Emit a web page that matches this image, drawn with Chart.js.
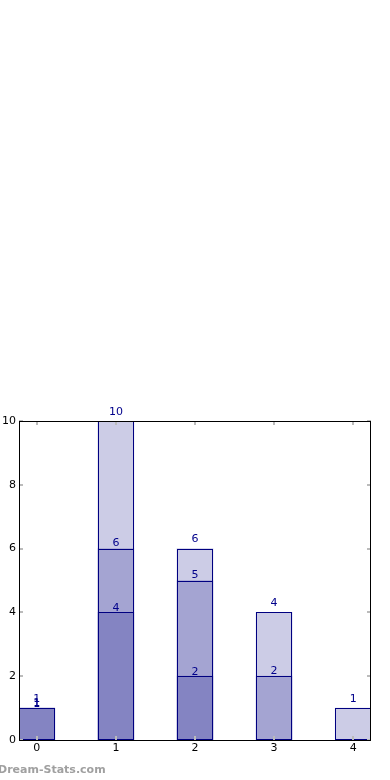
<!DOCTYPE html>
<html>
<head>
<meta charset="utf-8">
<script src="https://cdn.jsdelivr.net/npm/chart.js@4.4.1/dist/chart.umd.min.js"></script>
<style>
  html, body { margin: 0; padding: 0; background: #fff; }
  #wrap { width: 390px; height: 780px; position: relative; }
</style>
</head>
<body>
<div id="wrap"><canvas id="chart" width="390" height="780"></canvas></div>
<script>
// data
const categories = [0, 1, 2, 3, 4];
const totalVals  = [1, 10, 6, 4, 1];
const midVals    = [1, 6, 5, 2, null];
const lowVals    = [1, 4, 2, null, null];
const yTicks     = [0, 2, 4, 6, 8, 10];

const fill = 'rgba(0,0,128,0.2)';
const edge = '#000080';

function toPoints(vals) {
    return categories.map((c, i) => ({ x: c, y: vals[i] }));
}

function makeSet(vals, lift) {
    return {
        data: toPoints(vals),
        backgroundColor: fill,
        borderWidth: 0,
        barThickness: 36,
        grouped: false,
        labelLift: lift
    };
}

// crisp outlines + value labels on top of the bars
const barLabels = {
    id: 'barLabels',
    afterDatasetsDraw(chart) {
        const ctx = chart.ctx;
        ctx.save();
        ctx.strokeStyle = edge;
        ctx.lineWidth = 1;
        chart.data.datasets.forEach((ds, di) => {
            chart.getDatasetMeta(di).data.forEach((bar, i) => {
                if (ds.data[i].y == null) return;
                const p = bar.getProps(['x', 'y', 'base', 'width'], true);
                const l = Math.round(p.x - p.width / 2) + 0.5;
                const r = Math.round(p.x + p.width / 2) - 0.5;
                const t = Math.round(p.y) + 0.5;
                const b = Math.round(p.base) - 0.5;
                ctx.strokeRect(l, t, r - l, b - t);
            });
        });
        ctx.font = '11px "DejaVu Sans"';
        ctx.fillStyle = '#00008b';
        ctx.textAlign = 'center';
        ctx.textBaseline = 'middle';
        chart.data.datasets.forEach((ds, di) => {
            chart.getDatasetMeta(di).data.forEach((bar, i) => {
                const v = ds.data[i].y;
                if (v == null) return;
                ctx.fillText(String(v), bar.x, bar.y - ds.labelLift);
            });
        });
        ctx.restore();
    }
};

// box around the plot and small inward ticks
const frame = {
    id: 'frame',
    afterDraw(chart) {
        const { ctx, chartArea: a, scales } = chart;
        ctx.save();
        ctx.strokeStyle = '#bbbbbb';
        ctx.lineWidth = 2;
        ctx.beginPath();
        categories.forEach(c => {
            const x = Math.round(scales.x.getPixelForValue(c));
            ctx.moveTo(x, a.bottom); ctx.lineTo(x, a.bottom - 4);
            ctx.moveTo(x, a.top); ctx.lineTo(x, a.top + 4);
        });
        yTicks.forEach(t => {
            const y = Math.round(scales.y.getPixelForValue(t));
            ctx.moveTo(a.left, y); ctx.lineTo(a.left + 4, y);
            ctx.moveTo(a.right, y); ctx.lineTo(a.right - 4, y);
        });
        ctx.stroke();
        ctx.strokeStyle = '#000';
        ctx.lineWidth = 1;
        const L = Math.round(a.left) + 0.5, R = Math.round(a.right) - 0.5;
        const T = Math.round(a.top) + 0.5, B = Math.round(a.bottom) + 0.5;
        ctx.strokeRect(L, T, R - L, B - T);
        // watermark
        ctx.font = 'bold 11px "DejaVu Sans"';
        ctx.fillStyle = '#a0a0a0';
        ctx.textAlign = 'left';
        ctx.textBaseline = 'middle';
        ctx.fillText('Dream-Stats.com', -2, 770);
        ctx.restore();
    }
};

new Chart(document.getElementById('chart'), {
    type: 'bar',
    data: {
        datasets: [
            makeSet(totalVals, 9),
            makeSet(midVals, 5),
            makeSet(lowVals, 4)
        ]
    },
    options: {
        responsive: false,
        animation: false,
        layout: { padding: { top: 421, right: 19, left: 0, bottom: 0 } },
        plugins: { legend: { display: false }, tooltip: { enabled: false } },
        scales: {
            x: {
                type: 'linear',
                offset: false,
                min: -0.225,
                max: 4.225,
                afterBuildTicks: s => { s.ticks = categories.map(v => ({ value: v })); },
                afterFit: s => { s.height = 40; },
                grid: { display: false, drawTicks: false },
                border: { display: false },
                ticks: { color: '#000', font: { family: 'DejaVu Sans', size: 11 }, padding: 2 }
            },
            y: {
                min: 0,
                max: 10,
                afterBuildTicks: s => { s.ticks = yTicks.map(v => ({ value: v })); },
                afterFit: s => { s.width = 19; },
                grid: { display: false, drawTicks: false },
                border: { display: false },
                ticks: { color: '#000', font: { family: 'DejaVu Sans', size: 11 }, padding: 3 }
            }
        }
    },
    plugins: [barLabels, frame]
});
</script>
</body>
</html>
